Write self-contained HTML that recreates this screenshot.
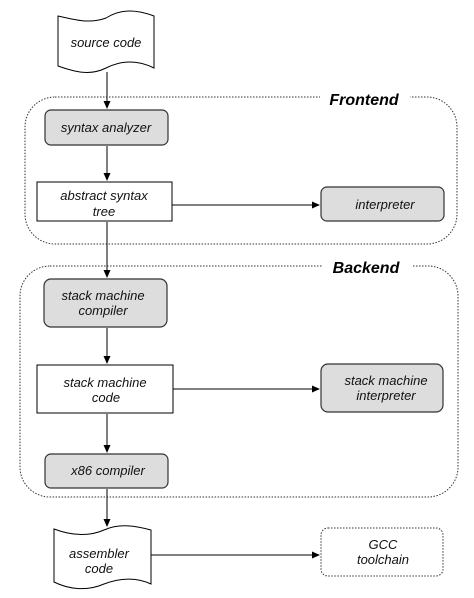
<!DOCTYPE html>
<html><head><style>body{margin:0;background:#fff}</style></head><body>
<svg width="474" height="593" viewBox="0 0 474 593" xmlns="http://www.w3.org/2000/svg" font-family="Liberation Sans, sans-serif" font-size="13" font-style="italic">
<defs><marker id="a" markerWidth="8" markerHeight="8" refX="7" refY="4" orient="auto" markerUnits="userSpaceOnUse"><path d="M0,0.5 L8,4 L0,7.5 Z" fill="#000"/></marker></defs>
<g fill="none" stroke="#333" stroke-width="1" stroke-dasharray="1.5,1.5">
<rect x="25" y="97" width="432" height="147" rx="30"/>
<rect x="20" y="266" width="438" height="231" rx="30"/>
<rect x="321" y="528" width="122" height="48" rx="7"/>
</g>
<rect x="320" y="88" width="90" height="22" fill="#fff"/>
<rect x="322" y="256" width="90" height="22" fill="#fff"/>
<text x="364" y="105" text-anchor="middle" font-weight="bold" font-size="16">Frontend</text>
<text x="366" y="273" text-anchor="middle" font-weight="bold" font-size="16">Backend</text>
<g stroke="#000" fill="none">
<path d="M107 72 V108" marker-end="url(#a)"/>
<path d="M107 146 V180" marker-end="url(#a)"/>
<path d="M107 222 V277" marker-end="url(#a)"/>
<path d="M107 328 V363" marker-end="url(#a)"/>
<path d="M107 414 V452" marker-end="url(#a)"/>
<path d="M107 489 V526" marker-end="url(#a)"/>
<path d="M172 205 H319" marker-end="url(#a)"/>
<path d="M173 389 H319" marker-end="url(#a)"/>
<path d="M151 555 H319" marker-end="url(#a)"/>
</g>
<g stroke="#333" stroke-width="1.2" fill="#ddd">
<rect x="45" y="110" width="123" height="35" rx="6"/>
<rect x="321" y="187" width="123" height="34" rx="6"/>
<rect x="44" y="279" width="123" height="48" rx="7"/>
<rect x="321" y="364" width="122" height="48" rx="7"/>
<rect x="45" y="454" width="123" height="34" rx="6"/>
</g>
<g stroke="#000" fill="#fff">
<rect x="37" y="182" width="135" height="39"/>
<rect x="37" y="365" width="136" height="48"/>
<path d="M58 16 C75 20 90 24 106 18 C122 8 138 10 154 16 V68 C138 60 122 60 106 68 C90 76 75 72 58 66 Z"/>
<path d="M54 529 C70 535 88 537 104 530 C120 523 136 526 151 530 V584 C136 577 120 578 104 584 C88 591 70 590 54 582 Z"/>
</g>
<g text-anchor="middle" fill="#111">
<text x="106" y="47">source code</text>
<text x="106" y="132">syntax analyzer</text>
<text x="104" y="200">abstract syntax</text><text x="104" y="216">tree</text>
<text x="385" y="209">interpreter</text>
<text x="103" y="300">stack machine</text><text x="103" y="315">compiler</text>
<text x="105" y="387">stack machine</text><text x="106" y="402">code</text>
<text x="386" y="385">stack machine</text><text x="386" y="400">interpreter</text>
<text x="108" y="475">x86 compiler</text>
<text x="99" y="558">assembler</text><text x="99" y="573">code</text>
<text x="383" y="549">GCC</text><text x="383" y="564">toolchain</text>
</g>
</svg>
</body></html>
